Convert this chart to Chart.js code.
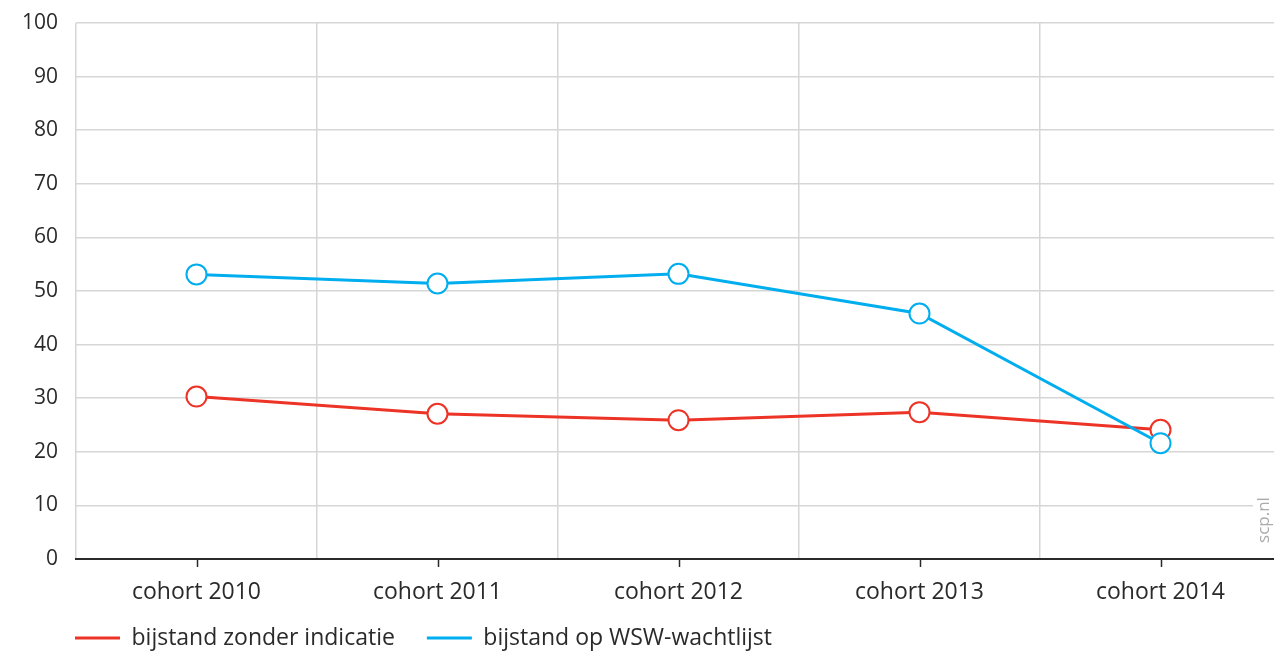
<!DOCTYPE html>
<html>
<head>
<meta charset="utf-8">
<script src="https://cdn.jsdelivr.net/npm/chart.js@4/dist/chart.umd.min.js"></script>
<style>
  html, body { margin: 0; padding: 0; background: #fff; overflow: hidden; }
  #wrap { width: 1281px; height: 653px; position: relative; }
</style>
</head>
<body>
<div id="wrap"><canvas id="c"></canvas></div>
<script>
const categories = ['cohort 2010', 'cohort 2011', 'cohort 2012', 'cohort 2013', 'cohort 2014'];
const zonderIndicatie = [30.3, 27.1, 25.9, 27.4, 24.1];
const wswWachtlijst = [53.1, 51.4, 53.2, 45.8, 21.6];
const seriesNames = ['bijstand zonder indicatie', 'bijstand op WSW-wachtlijst'];
const yMin = 0, yMax = 100, yStep = 10;
const watermark = 'scp.nl';

const RED = '#ec3326';
const BLUE = '#00aeef';
const FONT = '"Open Sans"';
const FS = 23;
const FS_Y = 21;
const TEXT = '#2a2a2a';
const LEG_PAD = 32;

const extras = {
  id: 'extras',
  afterLayout(chart) {
    const lg = chart.legend;
    if (!lg) return;
    const dx = 75 - (lg.left + LEG_PAD);
    const dy = 638 - (lg.top + LEG_PAD + FS / 2);
    lg.left += dx; lg.right += dx;
    lg.top += dy; lg.bottom += dy;
  },
  afterDraw(chart) {
    const ctx = chart.ctx;
    const x = chart.scales.x;
    const area = chart.chartArea;
    ctx.save();
    ctx.strokeStyle = '#2a2a2a';
    ctx.lineWidth = 1.5;
    for (let i = 0; i < categories.length; i++) {
      const px = Math.round(x.getPixelForTick(i)) + 0.5;
      ctx.beginPath();
      ctx.moveTo(px, area.bottom);
      ctx.lineTo(px, area.bottom + 8);
      ctx.stroke();
    }
    ctx.fillStyle = '#fff';
    ctx.fillRect(1253, 490, 21, 62);
    ctx.translate(1264, 520);
    ctx.rotate(-Math.PI / 2);
    ctx.fillStyle = '#ababab';
    ctx.font = '17px ' + FONT;
    ctx.textAlign = 'center';
    ctx.textBaseline = 'middle';
    ctx.fillText(watermark, 0, 0);
    ctx.restore();
  }
};

function lineSet(label, data, color, order) {
  return {
    label, data, order,
    borderColor: color,
    backgroundColor: color,
    borderWidth: 3,
    pointRadius: 10,
    pointHoverRadius: 10,
    pointBorderWidth: 2,
    pointBackgroundColor: '#fff',
    pointBorderColor: color,
    tension: 0,
    clip: false
  };
}

new Chart(document.getElementById('c'), {
  type: 'line',
  data: {
    labels: categories,
    datasets: [
      lineSet(seriesNames[0], zonderIndicatie, RED, 1),
      lineSet(seriesNames[1], wswWachtlijst, BLUE, 0)
    ]
  },
  options: {
    responsive: true,
    maintainAspectRatio: false,
    animation: false,
    layout: { autoPadding: false, padding: { top: 23, left: 0, right: 0, bottom: -20 } },
    scales: {
      x: {
        offset: true,
        grid: { offset: true, color: '#d6d6d6', lineWidth: 1.5, drawTicks: false },
        border: { display: true, color: '#2a2a2a', width: 2 },
        ticks: { color: TEXT, font: { family: FONT, size: FS }, padding: 20, maxRotation: 0 },
        afterFit(s) { s.height = 49; s.paddingLeft = 0; s.paddingRight = 0; }
      },
      y: {
        min: yMin, max: yMax,
        grid: {
          color: (c) => c.tick && c.tick.value === 0 ? 'rgba(0,0,0,0)' : '#d6d6d6',
          lineWidth: 1.5, drawTicks: false
        },
        border: { display: false },
        ticks: { stepSize: yStep, color: TEXT, font: { family: FONT, size: FS_Y }, padding: 18 },
        afterFit(s) { s.width = 76; s.paddingTop = 0; s.paddingBottom = 0; }
      }
    },
    plugins: {
      tooltip: { enabled: false },
      legend: {
        position: 'bottom',
        align: 'start',
        labels: {
          color: TEXT,
          font: { family: FONT, size: FS },
          boxWidth: 45,
          boxHeight: 3,
          padding: LEG_PAD,
          sort: (a, b) => a.datasetIndex - b.datasetIndex,
          generateLabels(chart) {
            const items = Chart.defaults.plugins.legend.labels.generateLabels(chart);
            items.forEach(it => {
              it.fillStyle = chart.data.datasets[it.datasetIndex].borderColor;
              it.lineWidth = 0;
              it.strokeStyle = 'rgba(0,0,0,0)';
            });
            return items;
          }
        }
      }
    }
  },
  plugins: [extras]
});
</script>
</body>
</html>
